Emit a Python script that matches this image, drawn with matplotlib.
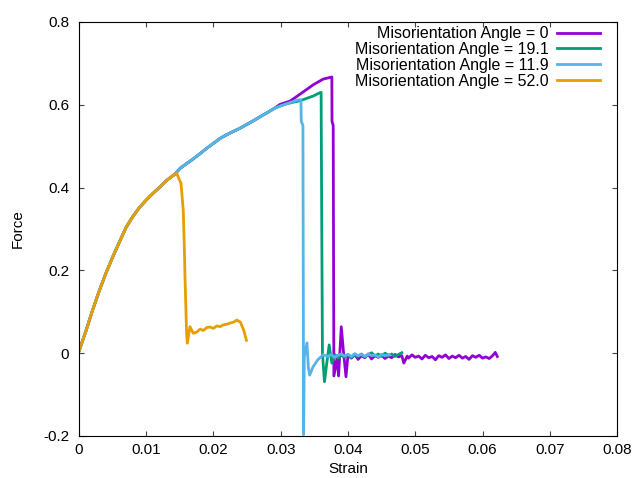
import numpy as np
import matplotlib
matplotlib.use('Agg')
import matplotlib.pyplot as plt

plt.rcParams['font.family'] = ['Liberation Sans', 'DejaVu Sans']

# shared elastic branch (all four runs)
load_x = [0.0, 0.00015, 0.001, 0.002, 0.003, 0.004, 0.005, 0.006, 0.007, 0.008,
          0.009, 0.010, 0.011, 0.012, 0.013, 0.0143]
load_y = [0.005, 0.012, 0.052, 0.103, 0.15, 0.193, 0.232, 0.268, 0.304, 0.33,
          0.352, 0.37, 0.386, 0.401, 0.417, 0.433]

# hardening branch shared by the three long runs
hard_x = [0.015, 0.016, 0.0168, 0.018, 0.019, 0.020, 0.021, 0.022, 0.023,
          0.0239, 0.025, 0.026, 0.0269, 0.028, 0.029]
hard_y = [0.446, 0.458, 0.467, 0.482, 0.495, 0.507, 0.519, 0.528, 0.536,
          0.543, 0.553, 0.562, 0.571, 0.581, 0.591]

# angle = 0
a0_x = [0.0299, 0.0314, 0.0329, 0.0348, 0.0363, 0.0373, 0.0376, 0.03762, 0.0378,
        0.0379, 0.0384, 0.0386, 0.039, 0.0393, 0.0397, 0.040, 0.0405, 0.041,
        0.0415, 0.042, 0.0425, 0.043, 0.0435, 0.044, 0.0445, 0.045, 0.0455,
        0.046, 0.0465, 0.047, 0.0475, 0.048, 0.0483, 0.0488, 0.049, 0.0495,
        0.050, 0.0505, 0.051, 0.0515, 0.052, 0.0525, 0.053, 0.0535, 0.054,
        0.0545, 0.055, 0.0555, 0.056, 0.0565, 0.057, 0.0575, 0.058, 0.0585,
        0.059, 0.0595, 0.060, 0.0605, 0.061, 0.0615, 0.0619, 0.0622]
a0_y = [0.601, 0.609, 0.626, 0.648, 0.662, 0.666, 0.667, 0.56, 0.55,
        -0.055, -0.012, -0.055, 0.064, 0.008, -0.057, -0.004, -0.012, -0.003,
        -0.015, -0.006, -0.011, -0.002, -0.014, -0.006, -0.01, -0.004, -0.013,
        -0.007, -0.011, -0.003, -0.009, -0.006, -0.024, -0.007, -0.012, -0.004,
        -0.01, -0.007, -0.014, -0.005, -0.011, -0.008, -0.016, -0.006, -0.01,
        -0.004, -0.013, -0.007, -0.011, -0.005, -0.012, -0.008, -0.015, -0.006,
        -0.01, -0.005, -0.012, -0.009, -0.013, -0.006, 0.002, -0.008]

# angle = 19.1
a19_x = [0.0299, 0.031, 0.0329, 0.0348, 0.0358, 0.036, 0.0361, 0.0362, 0.0365,
         0.0368, 0.0372, 0.0376, 0.0381, 0.0385, 0.039, 0.0395, 0.040, 0.0405,
         0.041, 0.0415, 0.042, 0.0425, 0.043, 0.0435, 0.044, 0.0445, 0.045,
         0.0455, 0.046, 0.0465, 0.047, 0.0475, 0.048]
a19_y = [0.597, 0.603, 0.61, 0.621, 0.629, 0.63, 0.3, 0.0, -0.069, -0.03,
         0.02, -0.024, -0.004, -0.012, -0.006, -0.009, -0.003, -0.011, -0.005,
         -0.008, -0.002, -0.009, -0.004, 0.001, -0.007, -0.002, -0.008, 0.0,
         -0.005, -0.002, -0.008, -0.003, 0.001]

# angle = 11.9
a11_x = [0.0299, 0.031, 0.0326, 0.033, 0.03305, 0.0333, 0.0334, 0.0335, 0.0339,
         0.0341, 0.0343, 0.0348, 0.0355, 0.0363, 0.037, 0.0375, 0.038, 0.0385,
         0.039, 0.0395, 0.040, 0.0405, 0.041, 0.0415, 0.042, 0.0425, 0.043,
         0.0435, 0.044, 0.0445, 0.045, 0.0455, 0.0462]
a11_y = [0.597, 0.603, 0.612, 0.612, 0.56, 0.55, -0.197, -0.008, 0.025,
         -0.033, -0.053, -0.033, -0.016, -0.004, -0.008, -0.003, -0.01, -0.005,
         -0.002, -0.007, -0.003, -0.008, -0.001, -0.006, -0.003, -0.008, -0.002,
         -0.006, -0.004, -0.009, -0.003, -0.006, -0.004]

# angle = 52.0
a52_x = [0.01452, 0.01517, 0.0155, 0.01566, 0.01576, 0.016, 0.0161, 0.0165,
         0.017, 0.0175, 0.018, 0.0185, 0.019, 0.0195, 0.020, 0.0205, 0.021,
         0.0214, 0.022, 0.0225, 0.023, 0.02345, 0.024, 0.0245, 0.0249]
a52_y = [0.4346, 0.41, 0.346, 0.257, 0.185, 0.048, 0.024, 0.064, 0.048,
         0.051, 0.058, 0.055, 0.062, 0.063, 0.06, 0.066, 0.064, 0.068, 0.07,
         0.073, 0.075, 0.08, 0.075, 0.055, 0.031]

labels = ['Misorientation Angle = 0', 'Misorientation Angle = 19.1',
          'Misorientation Angle = 11.9', 'Misorientation Angle = 52.0']
colors = ['#9400d3', '#009e73', '#56b4e9', '#e69f00']

series = [
    (load_x + hard_x + a0_x, load_y + hard_y + a0_y),
    (load_x + hard_x + a19_x, load_y + hard_y + a19_y),
    (load_x + hard_x + a11_x, load_y + hard_y + a11_y),
    (load_x + a52_x, load_y + a52_y),
]

fig = plt.figure(figsize=(6.34, 4.78), dpi=100)
ax = fig.add_axes([0.1246, 0.0879, 0.8486, 0.8661])

for (x, y), c, lab in zip(series, colors, labels):
    ax.plot(x, y, color=c, lw=2.0, label=lab)

ax.set_xlim(0, 0.08)
ax.set_ylim(-0.2, 0.8)
xt = np.arange(0, 0.081, 0.01)
ax.set_xticks(xt)
ax.set_xticklabels(['0', '0.01', '0.02', '0.03', '0.04', '0.05', '0.06', '0.07', '0.08'])
yt = [-0.2, 0, 0.2, 0.4, 0.6, 0.8]
ax.set_yticks(yt)
ax.set_yticklabels(['-0.2', '0', '0.2', '0.4', '0.6', '0.8'])
ax.tick_params(direction='in', top=True, right=True, length=3.5, labelsize=11,
               color='#444444')
ax.tick_params(axis='y', pad=7)
ax.tick_params(axis='x', pad=5)

ax.set_xlabel('Strain', fontsize=11, va='center')
ax.xaxis.set_label_coords(0.5, -0.0797)
ax.set_ylabel('Force', fontsize=11, va='center')
ax.yaxis.set_label_coords(-0.1143, 0.5)

ax.legend(loc='upper right', bbox_to_anchor=(0.9684, 0.99), frameon=False,
          markerfirst=False, fontsize=11.5, handlelength=2.7, handletextpad=0.5,
          labelspacing=0.06, borderpad=0, borderaxespad=0)

fig.savefig('out.png', dpi=100)
